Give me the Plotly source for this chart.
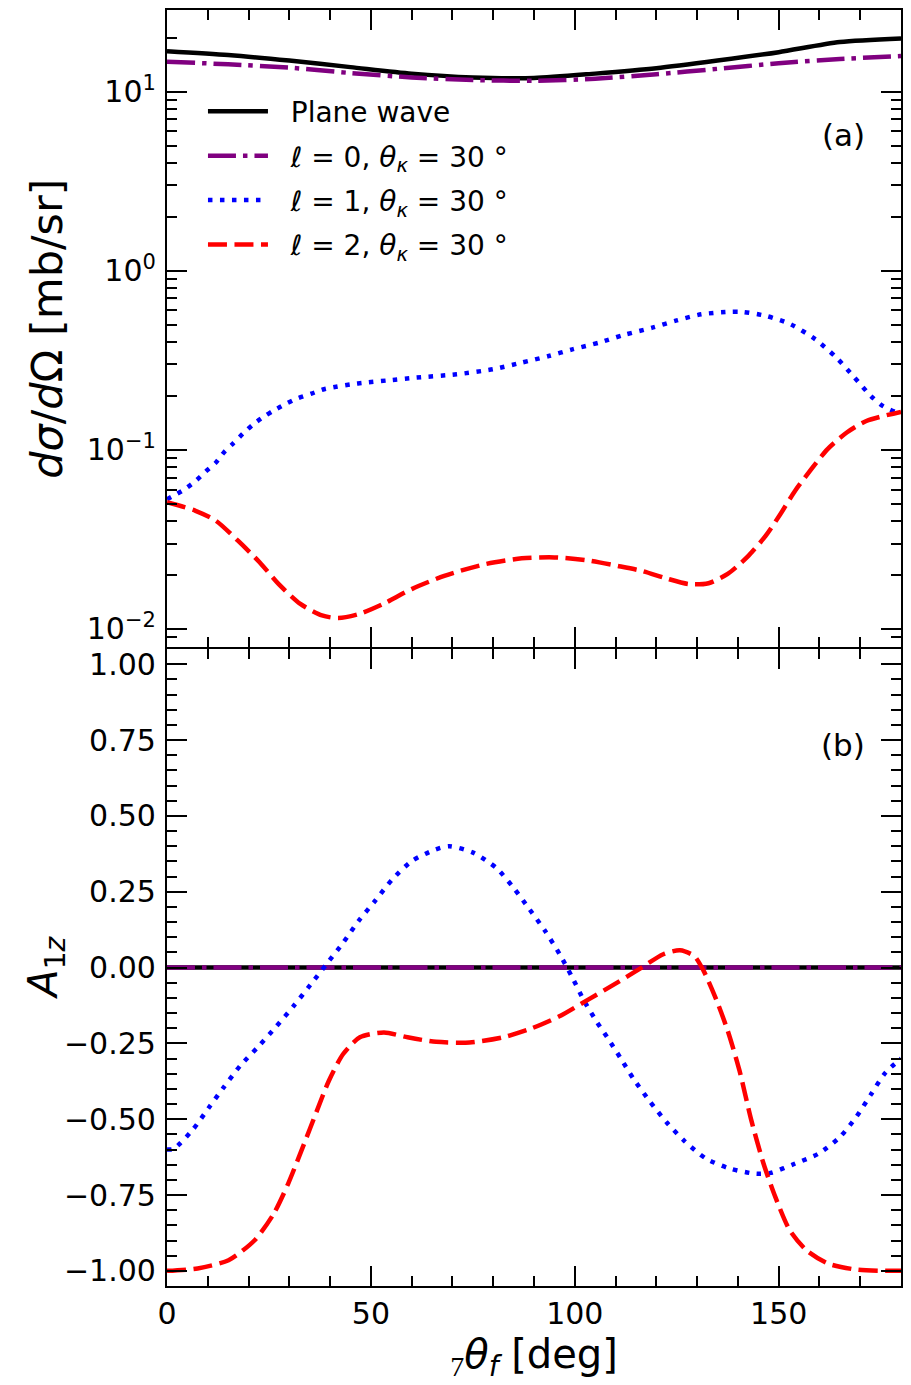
import plotly.graph_objects as go
from plotly.subplots import make_subplots

# ---------------- data ----------------
# Panel (a): cross sections [mb/sr]
theta_pw = [0, 15, 30, 45, 60, 75, 90, 105, 120, 135, 150, 165, 180]
xs_plane_wave = [16.8, 16.0, 14.9, 13.7, 12.6, 12.0, 11.9, 12.6, 13.5, 14.9, 16.6, 18.9, 19.8]
xs_l0 = [14.7, 14.2, 13.6, 12.7, 12.0, 11.6, 11.5, 11.8, 12.5, 13.4, 14.4, 15.2, 15.8]

theta_l1_a = [0, 4, 7, 9.5, 12, 14, 16.3, 18.6, 21, 23.7, 26.2, 29.2, 32, 35.4, 38.5,
              41.5, 45, 48.5, 54, 61, 71, 80, 87, 93.6, 99.4, 106, 112, 119, 125,
              131, 137.5, 141, 147, 153, 159, 164, 168.5, 172.6, 175.5, 180]
xs_l1 = [0.053, 0.0596, 0.067, 0.0757, 0.085, 0.097, 0.109, 0.123, 0.138, 0.153, 0.166,
         0.181, 0.194, 0.206, 0.218, 0.225, 0.232, 0.237, 0.244, 0.253, 0.264, 0.282,
         0.307, 0.334, 0.364, 0.397, 0.438, 0.481, 0.528, 0.571, 0.589, 0.589, 0.559,
         0.502, 0.414, 0.330, 0.255, 0.200, 0.176, 0.158]

theta_l2_a = [0, 7, 12, 17.4, 22.7, 27.4, 32.7, 38, 42, 47, 53, 60, 68, 78, 87, 95,
              103.5, 110.5, 116.4, 122.3, 128, 132.8, 137.5, 142.2, 146.8, 150.4, 154,
              158, 162, 166.7, 171.5, 180]
xs_l2 = [0.051, 0.0457, 0.0402, 0.0311, 0.0236, 0.0178, 0.0138, 0.0119, 0.0115, 0.0121,
         0.0138, 0.0167, 0.0198, 0.0230, 0.0248, 0.0251, 0.0241, 0.0225, 0.0211, 0.0192,
         0.0178, 0.0180, 0.0203, 0.0251, 0.0331, 0.0437, 0.059, 0.078, 0.101, 0.125,
         0.145, 0.163]

# Panel (b): analyzing power A_1z
theta_flat = [0, 180]
a_plane_wave = [0.0, 0.0]
a_l0 = [0.0, 0.0]

theta_l1_b = [0, 1.6, 6.3, 10.2, 13.9, 18.0, 22.5, 26.8, 31.1, 35.1, 39.1, 43.2, 47.0,
              51.1, 55.2, 60.0, 65.8, 69.2, 75.2, 80.7, 85.0, 88.9, 92.7, 96.3, 99.4,
              102.3, 105.5, 108.2, 111.1, 114.4, 118.4, 122.5, 126.9, 132.2, 138.1,
              144.5, 148.0, 153.9, 159.7, 165.0, 169.1, 172.6, 176.1, 180]
a_l1 = [-0.60, -0.598, -0.535, -0.463, -0.395, -0.323, -0.259, -0.194, -0.126, -0.058,
        0.011, 0.082, 0.154, 0.221, 0.29, 0.351, 0.389, 0.400, 0.378, 0.329, 0.263,
        0.192, 0.121, 0.044, -0.033, -0.110, -0.181, -0.235, -0.296, -0.367, -0.441,
        -0.510, -0.572, -0.630, -0.663, -0.680, -0.677, -0.647, -0.614, -0.559,
        -0.491, -0.419, -0.348, -0.30]

theta_l2_b = [0, 7.5, 15.1, 21.5, 26.2, 29.7, 33.3, 36.8, 39.7, 43.2, 47.3, 53.2, 59.0,
              66.0, 74.2, 82.4, 89.5, 96.5, 103.5, 110.5, 116.4, 121.7, 125.8, 129.3,
              131.6, 134.5, 137.5, 140.4, 143.3, 146.3, 149.2, 152.7, 156.8, 162.1,
              169.1, 177.3, 180]
a_l2 = [-1.0, -0.992, -0.965, -0.899, -0.811, -0.713, -0.592, -0.471, -0.373, -0.285,
        -0.230, -0.214, -0.230, -0.245, -0.247, -0.230, -0.200, -0.159, -0.104, -0.049,
        0.0, 0.044, 0.057, 0.038, -0.011, -0.099, -0.208, -0.340, -0.504, -0.647,
        -0.757, -0.866, -0.932, -0.976, -0.996, -1.0, -1.0]

# tick labels
log_tickvals = [0.01, 0.1, 1, 10]
log_ticktext = ["10<sup>−2</sup>", "10<sup>−1</sup>", "10<sup>0</sup>", "10<sup>1</sup>"]

NB = "\u00a0\u00a0"
labels = [NB + "Plane wave",
          NB + "<i>ℓ</i> = 0, <i>θ</i><sub><i>κ</i></sub> = 30 °",
          NB + "<i>ℓ</i> = 1, <i>θ</i><sub><i>κ</i></sub> = 30 °",
          NB + "<i>ℓ</i> = 2, <i>θ</i><sub><i>κ</i></sub> = 30 °"]
colors = ["black", "#800080", "#0000ff", "#ff0000"]
dashes = ["solid", "28px,7px,4.5px,7px", "4.5px,7.5px", "19px,7.5px"]
LW = 4.5
AXLW = 2.2

FONT = "DejaVu Sans"

fig = make_subplots(rows=2, cols=1, shared_xaxes=False, vertical_spacing=0)

top_x = [theta_pw, theta_pw, theta_l1_a, theta_l2_a]
top_y = [xs_plane_wave, xs_l0, xs_l1, xs_l2]
bot_x = [theta_flat, theta_flat, theta_l1_b, theta_l2_b]
bot_y = [a_plane_wave, a_l0, a_l1, a_l2]

for i in range(4):
    fig.add_trace(go.Scatter(x=top_x[i], y=top_y[i], mode="lines", name=labels[i],
                             legendgroup="g%d" % i,
                             line=dict(color=colors[i], width=LW, dash=dashes[i],
                                       shape="spline", smoothing=0.7)),
                  row=1, col=1)
for i in range(4):
    fig.add_trace(go.Scatter(x=bot_x[i], y=bot_y[i], mode="lines", name=labels[i],
                             legendgroup="g%d" % i, showlegend=False,
                             line=dict(color=colors[i], width=LW, dash=dashes[i],
                                       shape="spline", smoothing=0.7)),
                  row=2, col=1)

axis_common = dict(showline=True, linecolor="black", linewidth=AXLW, mirror="allticks",
                   ticks="inside", ticklen=20, tickwidth=2, tickcolor="black",
                   showgrid=False, zeroline=False,
                   tickfont=dict(family=FONT, size=30, color="black"))

fig.update_xaxes(range=[0, 180], dtick=50, tick0=0,
                 minor=dict(ticks="inside", dtick=10, tick0=0, ticklen=10, tickwidth=2,
                            tickcolor="black", showgrid=False),
                 **axis_common)
fig.update_xaxes(showticklabels=False, row=1, col=1)
fig.update_xaxes(ticklabelstandoff=0,
                 title=dict(text="<sub><span style='font-family:Liberation Serif'>7</span></sub>"
                                 "<i>θ</i><sub><i>f</i></sub> [deg]",
                            font=dict(family=FONT, size=40, color="black"), standoff=4),
                 row=2, col=1)

# make the two panels' shared border lines coincide
plot_h = 1385 - 8 - 99
half = (AXLW / 2) / plot_h

fig.update_yaxes(type="log", range=[-2.1, 1.4556], tickvals=log_tickvals,
                 ticktext=log_ticktext, ticklabelstandoff=3, domain=[0.5 + half, 1],
                 minor=dict(ticks="inside", dtick="D1", ticklen=10, tickwidth=2,
                            tickcolor="black", showgrid=False),
                 row=1, col=1, **axis_common)
fig.update_yaxes(range=[-1.05, 1.05], dtick=0.25, tick0=0, tickformat=".2f",
                 ticklabelstandoff=3, domain=[0, 0.5 - half],
                 minor=dict(ticks="inside", dtick=0.05, tick0=0, ticklen=10, tickwidth=2,
                            tickcolor="black", showgrid=False),
                 row=2, col=1, **axis_common)

# y-axis titles
fig.add_annotation(text="<i>dσ</i>/<i>d</i>Ω [mb/sr]", xref="paper", yref="y domain",
                   x=-0.163, y=0.5, xanchor="center", yanchor="middle", textangle=-90,
                   showarrow=False, font=dict(family=FONT, size=43, color="black"))
fig.add_annotation(text="<i>A</i><sub>1<i>z</i></sub>", xref="paper", yref="y2 domain",
                   x=-0.166, y=0.5, xanchor="center", yanchor="middle", textangle=-90,
                   showarrow=False, font=dict(family=FONT, size=40, color="black"))

# panel labels
fig.add_annotation(text="(a)", xref="x domain", yref="y domain", x=0.921, y=0.803,
                   xanchor="center", yanchor="middle",
                   showarrow=False, font=dict(family=FONT, size=31, color="black"))
fig.add_annotation(text="(b)", xref="x2 domain", yref="y2 domain", x=0.921, y=0.850,
                   xanchor="center", yanchor="middle",
                   showarrow=False, font=dict(family=FONT, size=31, color="black"))

fig.update_layout(
    width=911, height=1385,
    margin=dict(l=167, r=8, t=8, b=99),
    plot_bgcolor="white", paper_bgcolor="white",
    font=dict(family=FONT, color="black"),
    showlegend=True,
    legend=dict(x=0.049, y=0.94, xanchor="left", yanchor="top",
                bgcolor="rgba(0,0,0,0)", borderwidth=0,
                font=dict(family=FONT, size=28, color="black"),
                tracegroupgap=5, itemwidth=60),
)

fig.write_html("out.html")
